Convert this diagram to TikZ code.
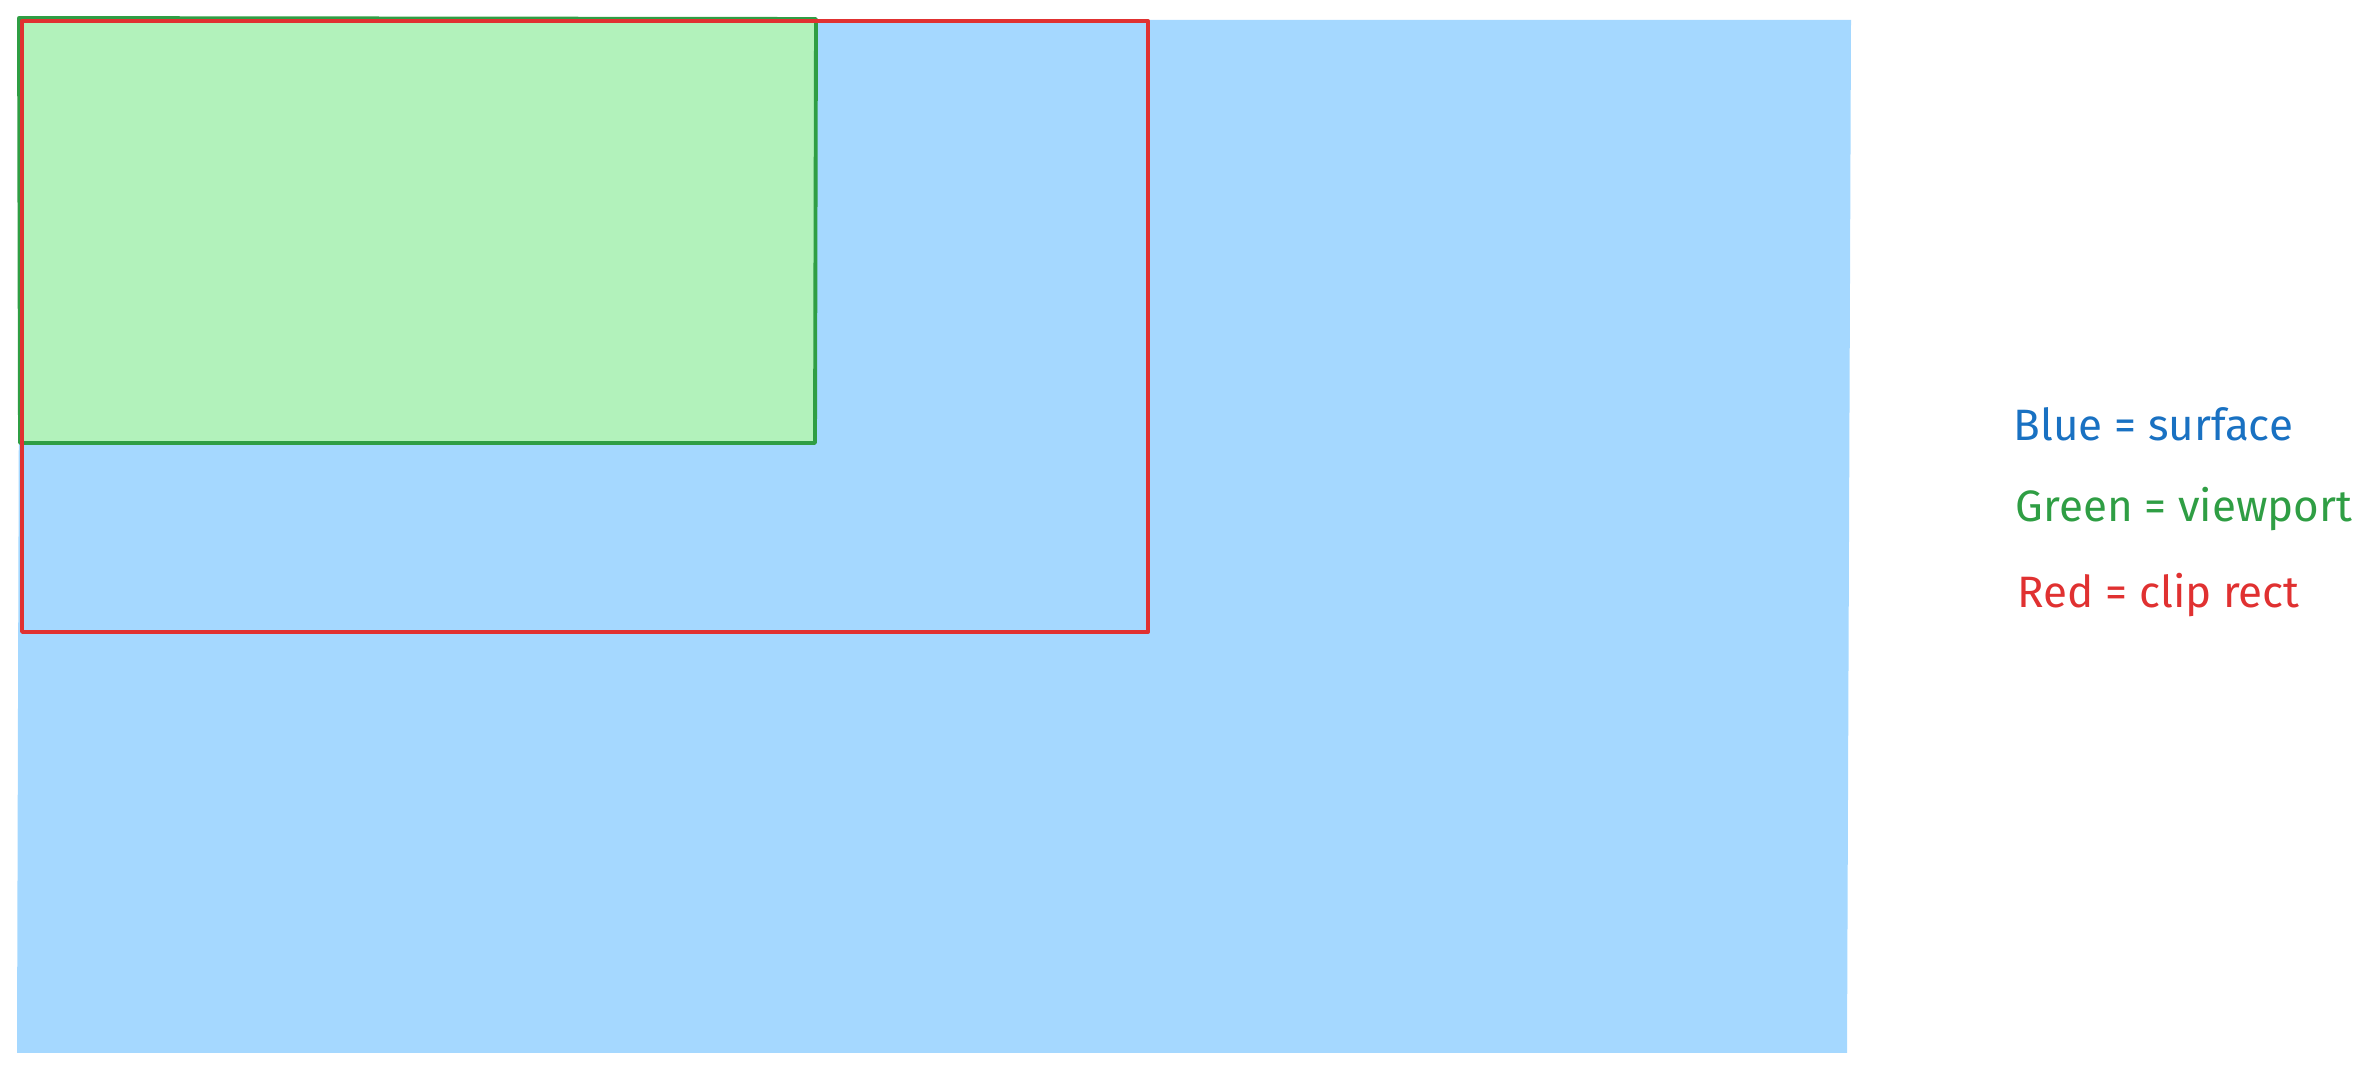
\documentclass[tikz,border=0pt]{standalone}
\usepackage{fontspec}
\setmainfont{Fira Sans}
\usetikzlibrary{positioning}
\definecolor{surfblue}{HTML}{A5D8FF}
\definecolor{viewgreen}{HTML}{B2F2BB}
\definecolor{linegreen}{HTML}{2F9E44}
\definecolor{linered}{HTML}{E03131}
\definecolor{textblue}{HTML}{1971C2}
\tikzset{legend/.style={anchor=base west, inner sep=0pt, font=\fontsize{12.5}{15}\selectfont}}

\begin{document}
\begin{tikzpicture}[x=0.01cm, y=-0.01cm]
					\useasboundingbox (0,0) rectangle (2363,1074);
					%Nodes
					\coordinate      (s1) 	at 	(20,20);
					\coordinate      (s2) 	at 	(1851,20);
					\coordinate      (s3) 	at 	(1847,1053);
					\coordinate      (s4) 	at 	(17,1053);
					\coordinate      (v1) 	at 	(19,18);
					\coordinate      (v2) 	at 	(816,19);
					\coordinate      (v3) 	at 	(815,443);
					\coordinate      (v4) 	at 	(20,443);
					\coordinate      (c1) 	at 	(22,21);
					\coordinate      (c2) 	at 	(1148,21);
					\coordinate      (c3) 	at 	(1148,632);
					\coordinate      (c4) 	at 	(22,632);
					\node[legend, text=textblue]  (blue)  at (2013,441) {Blue = surface};
					\node[legend, text=linegreen] (green) at (2015,522) {Green = viewport};
					\node[legend, text=linered]   (red)   at (2017,608) {Red = clip rect};

					%Lines
					\fill[surfblue] (s1) -- (s2) -- (s3) -- (s4) -- cycle;
					\fill[viewgreen, draw=linegreen, line width=1.1pt, line join=round] (v1) -- (v2) -- (v3) -- (v4) -- cycle;
					\draw[linered, line width=1.1pt, line join=round] (c1) -- (c2) -- (c3) -- (c4) -- cycle;

				\end{tikzpicture}
\end{document}
